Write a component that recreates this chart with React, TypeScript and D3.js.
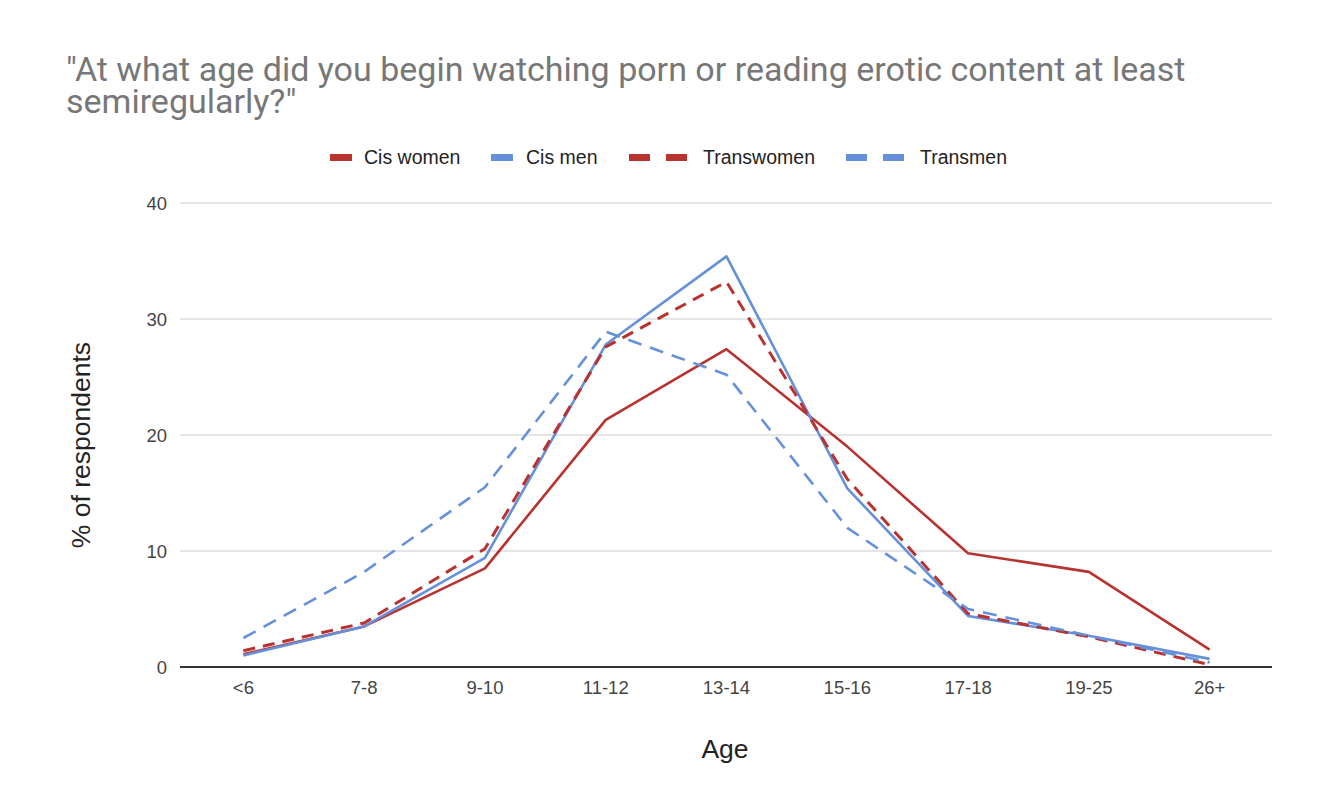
import * as d3 from 'd3'

const ages = ['<6', '7-8', '9-10', '11-12', '13-14', '15-16', '17-18', '19-25', '26+']
const cisWomen = [1.1, 3.5, 8.5, 21.3, 27.4, 19.0, 9.8, 8.2, 1.5]
const cisMen = [1.0, 3.5, 9.4, 27.8, 35.4, 15.4, 4.4, 2.7, 0.7]
const transWomen = [1.4, 3.8, 10.2, 27.6, 33.2, 16.2, 4.6, 2.6, 0.2]
const transMen = [2.5, 8.2, 15.5, 28.9, 25.2, 12.0, 5.0, 2.7, 0.4]
const yTicks = [0, 10, 20, 30, 40]

const RED = '#b83230'
const BLUE = '#6690da'

type Series = {name: string; values: number[]; color: string; dash?: string; width: number}

const series: Series[] = [
  {name: 'Cis women', values: cisWomen, color: RED, width: 2.6},
  {name: 'Cis men', values: cisMen, color: BLUE, width: 2.6},
  {name: 'Transwomen', values: transWomen, color: RED, dash: '12 8', width: 3},
  {name: 'Transmen', values: transMen, color: BLUE, dash: '14 9', width: 2.6},
]

const FONT = 'Liberation Sans, Arial, sans-serif'

export default function App() {
  const width = 1344
  const height = 800
  const left = 183
  const right = 1270
  const top = 203
  const bottom = 667

  const x = d3.scaleBand<string>().domain(ages).range([left, right])
  const y = d3.scaleLinear().domain([0, 40]).range([bottom, top])
  const cx = (a: string) => (x(a) ?? 0) + x.bandwidth() / 2

  const line = d3.line<number>()
    .x((_, i) => cx(ages[i]))
    .y(d => y(d))

  const legend = [
    {x: 330, text: 364, s: series[0]},
    {x: 491, text: 526, s: series[1]},
    {x: 629, text: 703, s: series[2]},
    {x: 846, text: 920, s: series[3]},
  ]

  return (
    <svg width={width} height={height} style={{position: 'absolute', left: 0, top: 0}}>
      <rect width={width} height={height} fill='#fff' />
      <g fontFamily='Roboto' fontSize={34} fill='#777'>
        <text x={66} y={81}>"At what age did you begin watching porn or reading erotic content at least</text>
        <text x={66} y={113}>semiregularly?"</text>
      </g>

      <g fontFamily={FONT} fontSize={19.5} fill='#222'>
        {legend.map(l => (
          <g key={l.s.name}>
            {l.s.dash
              ? <>
                  <rect x={l.x} y={154} width={21} height={7} fill={l.s.color} />
                  <rect x={l.x + 37} y={154} width={21} height={7} fill={l.s.color} />
                </>
              : <rect x={l.x} y={154} width={22} height={7} fill={l.s.color} />}
            <text x={l.text} y={164}>{l.s.name}</text>
          </g>
        ))}
      </g>

      <g>
        {yTicks.map(t => (
          <g key={t}>
            {t !== 0 && <line x1={left - 3} x2={right + 2} y1={y(t)} y2={y(t)} stroke='#dcdcdc' strokeWidth={1.3} />}
            <text x={167} y={y(t) + 6.5} textAnchor='end' fontFamily={FONT} fontSize={18.5} fill='#444'>{t}</text>
          </g>
        ))}
      </g>

      {series.map(s => (
        <path
          key={s.name}
          d={line(s.values) ?? undefined}
          fill='none'
          stroke={s.color}
          strokeWidth={s.width}
          strokeDasharray={s.dash}
          strokeLinejoin='round'
        />
      ))}

      <line x1={left - 3} x2={right + 2} y1={bottom} y2={bottom} stroke='#333' strokeWidth={2} />

      <g fontFamily={FONT} fontSize={18.5} fill='#444' textAnchor='middle'>
        {ages.map(a => (
          <text key={a} x={cx(a)} y={694}>{a}</text>
        ))}
      </g>

      <text x={725} y={758} textAnchor='middle' fontFamily={FONT} fontSize={26.5} fill='#222'>Age</text>
      <text
        transform={`translate(90, 445) rotate(-90)`}
        textAnchor='middle'
        fontFamily={FONT}
        fontSize={26.5}
        fill='#222'
      >
        % of respondents
      </text>
    </svg>
  )
}
